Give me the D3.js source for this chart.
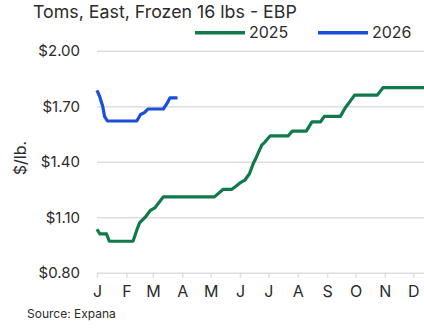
<!DOCTYPE html>
<html>
<head>
<meta charset="utf-8">
<script src="https://cdnjs.cloudflare.com/ajax/libs/d3/7.8.5/d3.min.js"></script>
<style>
  body { margin: 0; background: #fff; }
  svg { display: block; font-family: Inter, "Noto Sans", sans-serif; }
</style>
</head>
<body>
<script>
// day of year offsets (from Jan 1) and prices in $/lb
var days2025 = [0, 3, 10, 13, 38, 42, 45, 51, 56, 61, 64, 70, 124, 133, 142, 146, 151, 156, 161, 165, 167, 170, 174, 177, 183, 202, 206, 221, 227, 236, 240, 257, 262, 267, 272, 296, 302, 364];
var prices2025 = [1.035, 1.01, 1.01, 0.97, 0.97, 1.03, 1.07, 1.10, 1.135, 1.15, 1.17, 1.21, 1.21, 1.25, 1.25, 1.265, 1.285, 1.30, 1.335, 1.39, 1.41, 1.445, 1.49, 1.505, 1.54, 1.54, 1.565, 1.565, 1.615, 1.615, 1.645, 1.645, 1.69, 1.725, 1.76, 1.76, 1.80, 1.80];
var days2026 = [0, 3, 6, 8, 11, 42, 46, 50, 54, 70, 74, 77, 85];
var prices2026 = [1.785, 1.75, 1.70, 1.645, 1.62, 1.62, 1.655, 1.665, 1.685, 1.685, 1.715, 1.745, 1.745];
var monthLabels = ["J", "F", "M", "A", "M", "J", "J", "A", "S", "O", "N", "D"];
var yTicks = [0.8, 1.1, 1.4, 1.7, 2.0];
var seriesNames = ["2025", "2026"];
var seriesColors = ["#117a4a", "#1a4fd9"];

var w = 424,
    h = 328,
    plotLeft = 97,
    plotTop = 50.7,
    plotBottom = 272.7;

function toDate(d) {
    return new Date(2025, 0, 1 + d);
}

var svg = d3.select("body").append("svg").attr("width", w).attr("height", h);

var xScale = d3.scaleTime()
    .domain([new Date(2025, 0, 1), new Date(2025, 11, 1)])
    .range([plotLeft, 413.3]);

var yScale = d3.scaleLinear()
    .domain([0.8, 2.0])
    .range([plotBottom, plotTop]);

// gridlines
var grid = svg.append("g")
    .attr("transform", "translate(" + plotLeft + ",0)")
    .call(d3.axisRight(yScale).tickValues(yTicks).tickSize(w - plotLeft).tickFormat(""));
grid.select(".domain").remove();
grid.selectAll("line").attr("stroke", "#dedede").attr("stroke-width", 1.5);

// y labels
var yAxis = svg.append("g")
    .attr("transform", "translate(" + plotLeft + ",0)")
    .call(d3.axisLeft(yScale).tickValues(yTicks).tickSize(0).tickPadding(17).tickFormat(d3.format("$.2f")));
yAxis.select(".domain").remove();
yAxis.selectAll("text").attr("font-size", 15).attr("fill", "#2b2b2b").attr("font-family", "Inter, sans-serif");

// x axis
var months = d3.timeMonth.range(new Date(2025, 0, 1), new Date(2025, 11, 2));
var xAxis = svg.append("g")
    .attr("transform", "translate(0," + plotBottom + ")")
    .call(d3.axisBottom(xScale).tickValues(months).tickSize(5).tickPadding(8)
        .tickFormat(function (d) { return monthLabels[d.getMonth()]; }));
xAxis.select(".domain").remove();
xAxis.selectAll("line").attr("stroke", "#dedede").attr("stroke-width", 1.5);
xAxis.selectAll("text").attr("font-size", 16).attr("fill", "#2b2b2b").attr("font-family", "Inter, sans-serif");

var lineFn = d3.line()
    .x(function (d) { return xScale(toDate(d[0])); })
    .y(function (d) { return yScale(d[1]); });

var series = [
    d3.zip(days2025, prices2025),
    d3.zip(days2026, prices2026)
];

series.forEach(function (s, i) {
    svg.append("path")
        .attr("d", lineFn(s))
        .attr("fill", "none")
        .attr("stroke", seriesColors[i])
        .attr("stroke-width", 3.2)
        .attr("stroke-linejoin", "round");
});

// title
svg.append("text")
    .attr("x", 33).attr("y", 18)
    .attr("font-size", 17.8)
    .attr("fill", "#2b2b2b")
    .text("Toms, East, Frozen 16 lbs - EBP");

// legend
var legendX = [195, 318];
seriesNames.forEach(function (name, i) {
    var g = svg.append("g").attr("transform", "translate(" + legendX[i] + ",32.7)");
    g.append("line").attr("x1", 0).attr("x2", 50).attr("y1", 0).attr("y2", 0)
        .attr("stroke", seriesColors[i]).attr("stroke-width", 3.5);
    g.append("text").attr("x", 54).attr("y", 5.5)
        .attr("font-size", 16).attr("fill", "#2b2b2b").text(name);
});

// y axis title
svg.append("text")
    .attr("transform", "translate(26,158) rotate(-90)")
    .attr("text-anchor", "middle")
    .attr("font-size", 16)
    .attr("fill", "#2b2b2b")
    .text("$/lb.");

// source
svg.append("text")
    .attr("x", 27).attr("y", 318)
    .attr("font-size", 12)
    .attr("fill", "#2b2b2b")
    .text("Source: Expana");
</script>
</body>
</html>
